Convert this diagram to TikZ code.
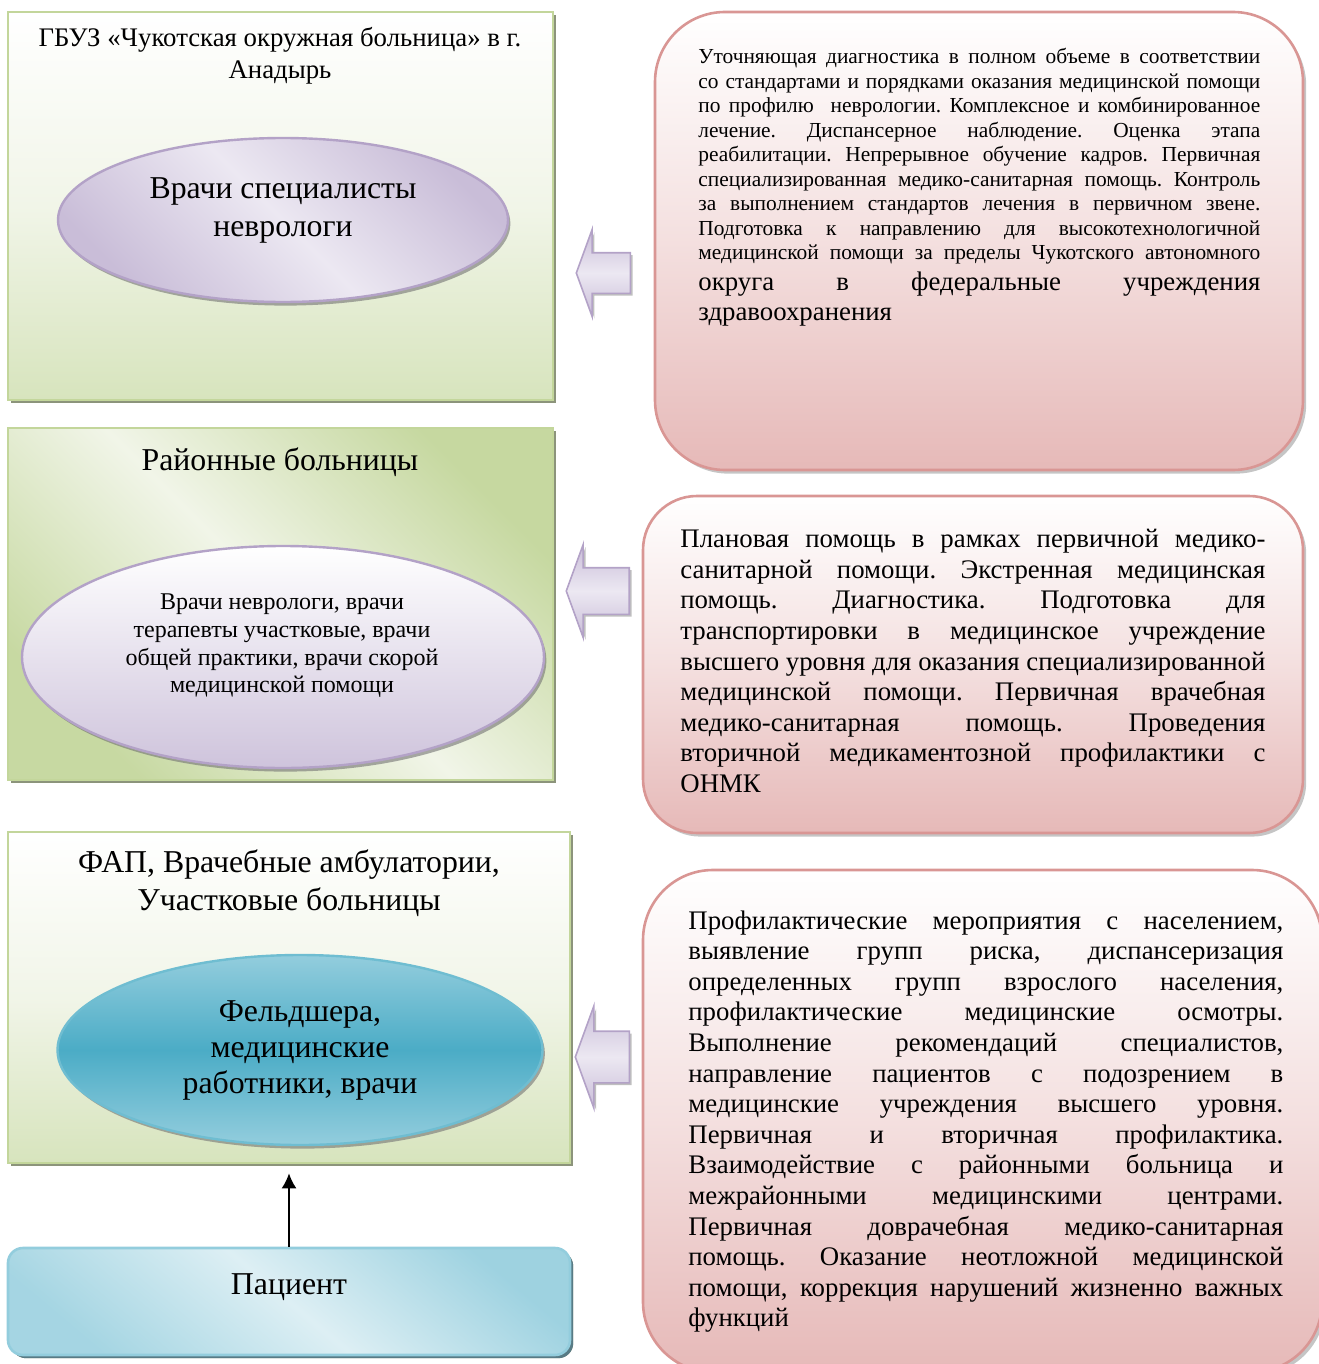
\documentclass[tikz,border=0pt]{standalone}
\usepackage{fontspec}
\setmainfont{Liberation Serif}
\usetikzlibrary{positioning,shapes.geometric,shapes.arrows,shadows,arrows.meta}

\definecolor{greenedge}{HTML}{C3D69B}
\definecolor{greenfill}{HTML}{D7E4BD}
\definecolor{greenlight}{HTML}{F1F5E8}
\definecolor{lilacedge}{HTML}{B3A2C7}
\definecolor{lilacfill}{HTML}{C9BDD8}
\definecolor{lilaclight}{HTML}{ECE8F2}
\definecolor{pinkedge}{HTML}{D99694}
\definecolor{pinkfill}{HTML}{E6B9B8}
\definecolor{tealedge}{HTML}{4BACC6}
\definecolor{tealfill}{HTML}{4BACC6}
\definecolor{teallight}{HTML}{93CDDD}
\definecolor{bluelight}{HTML}{DDEFF4}

\tolerance=10000
\hbadness=10000
\frenchspacing

\begin{document}
\begin{tikzpicture}[x=0.5pt,y=-0.5pt,
    tier/.style={rectangle, draw=greenedge, line width=1.3pt, inner sep=0pt,
      drop shadow={shadow xshift=1.6pt, shadow yshift=-1.6pt, fill=black!35!greenfill, opacity=1}},
    staff/.style={ellipse, draw=lilacedge, line width=1.2pt, inner sep=0pt,
      drop shadow={shadow xshift=1.2pt, shadow yshift=-1.8pt, fill=black!55, opacity=.6}},
    task/.style={rectangle, draw=pinkedge, line width=1.3pt, inner sep=0pt,
      top color=white, bottom color=pinkfill, middle color=pinkfill!45!white,
      drop shadow={shadow xshift=1.6pt, shadow yshift=-1.8pt, fill=black!45, opacity=.5}},
    tasktext/.style={anchor=north west, inner sep=0pt, align=justify,
      font=\fontsize{13.4}{15.3}\selectfont},
    headline/.style={align=center, inner sep=0pt},
    backarrow/.style={single arrow, shape border rotate=180, draw=lilacedge, line width=0.8pt,
      inner xsep=0pt, inner ysep=9.75pt, single arrow head extend=11.5pt,
      single arrow tip angle=140, minimum height=27pt,
      top color=lilacfill, bottom color=lilacfill, middle color=lilaclight,
      drop shadow={shadow xshift=1.2pt, shadow yshift=-1.2pt, fill=black!50, opacity=.5}}
  ]
  \useasboundingbox (0,0) rectangle (1318,1364);

  % left column: levels of care
  \node[tier, top color=white, bottom color=greenfill, middle color=greenlight,
        minimum width=272.5pt, minimum height=194pt] (gbuz) at (280.5,206) {};
  \node[headline, font=\fontsize{13.4}{16}\selectfont] (gbuzT) at (280,56)
    {ГБУЗ «Чукотская окружная больница» в г.\\Анадырь};
  \node[staff, top color=lilacfill, bottom color=lilacfill, middle color=lilaclight,
        shading angle=-45, minimum width=225pt, minimum height=82pt] (neuro) at (283,220) {};
  \node[headline, font=\fontsize{15.9}{19}\selectfont] (neuroT) at (283,210)
    {Врачи специалисты\\неврологи};

  \node[tier, top color=greenedge!85!greenfill, bottom color=greenedge!80!greenfill,
        middle color=greenlight, shading angle=-45,
        minimum width=272.5pt, minimum height=176pt] (rayon) at (280.5,604) {};
  \node[headline, font=\fontsize{15.9}{19}\selectfont] (rayonT) at (280,462)
    {Районные больницы};
  \node[staff, top color=white, bottom color=lilacfill!90!white,
        minimum width=261pt, minimum height=111pt] (district) at (283,657) {};
  \node[headline, font=\fontsize{12}{13.85}\selectfont] (districtT) at (282,646)
    {Врачи неврологи, врачи\\терапевты участковые, врачи\\общей практики, врачи скорой\\медицинской помощи};

  \node[tier, top color=white, bottom color=greenfill, middle color=greenlight,
        minimum width=281pt, minimum height=165.5pt] (fap) at (289,997.5) {};
  \node[headline, font=\fontsize{15.9}{19}\selectfont] (fapT) at (289,883)
    {ФАП, Врачебные амбулатории,\\Участковые больницы};
  \node[staff, draw=tealedge!80!white, top color=teallight, bottom color=teallight,
        middle color=tealfill, minimum width=242.5pt, minimum height=95pt] (feldsher) at (300,1050) {};
  \node[headline, font=\fontsize{15.9}{18}\selectfont] (feldsherT) at (300,1050)
    {Фельдшера,\\медицинские\\работники, врачи};

  \node[tier, rounded corners=7.5pt, draw=teallight, top color=teallight!85!bluelight,
        bottom color=teallight!75!bluelight, middle color=bluelight, shading angle=-40,
        drop shadow={shadow xshift=1.6pt, shadow yshift=-1.6pt, fill=black!40!teallight, opacity=1},
        minimum width=281pt, minimum height=53.5pt] (patient) at (289,1301.5) {};
  \node[headline, font=\fontsize{15.9}{19}\selectfont] (patientT) at (289,1287) {Пациент};

  \draw[-{Latex[length=7.5pt,width=7.5pt]}, line width=1pt, shorten >=4.5pt]
    (patient.north) -- (fap.south);

  % right column: tasks of each level
  \node[task, rounded corners=35pt, minimum width=324pt, minimum height=229pt] (p1) at (979,241) {};
  \node[tasktext, text width=281pt] (p1T) at (698,48) {%
    {\fontsize{10.7}{12.25}\selectfont
    Уточняющая диагностика в полном объеме в соответствии\linebreak
    со стандартами и порядками оказания медицинской помощи\linebreak
    по профилю~ неврологии. Комплексное и комбинированное\linebreak
    лечение. Диспансерное наблюдение. Оценка этапа\linebreak
    реабилитации. Непрерывное обучение кадров. Первичная\linebreak
    специализированная медико-санитарная помощь. Контроль\linebreak
    за выполнением стандартов лечения в первичном звене.\linebreak
    Подготовка к направлению для высокотехнологичной\linebreak
    медицинской помощи за пределы Чукотского автономного\parfillskip=0pt\par}
    округа в федеральные учреждения\linebreak
    здравоохранения};

  \node[task, rounded corners=27pt, minimum width=330pt, minimum height=168.5pt] (p2) at (973,664.5) {};
  \node[tasktext, text width=292.5pt] (p2T) at (680,529) {%
    Плановая помощь в рамках первичной медико-\linebreak
    санитарной помощи. Экстренная медицинская\linebreak
    помощь. Диагностика. Подготовка для\linebreak
    транспортировки в медицинское учреждение\linebreak
    высшего уровня для оказания специализированной\linebreak
    медицинской помощи. Первичная врачебная\linebreak
    медико-санитарная помощь. Проведения\linebreak
    вторичной медикаментозной профилактики с\linebreak
    ОНМК};

  \node[task, rounded corners=35pt, minimum width=339.5pt, minimum height=251pt] (p3) at (982.5,1121) {};
  \node[tasktext, text width=297.5pt] (p3T) at (688,910) {%
    Профилактические мероприятия с населением,\linebreak
    выявление групп риска, диспансеризация\linebreak
    определенных групп взрослого населения,\linebreak
    профилактические медицинские осмотры.\linebreak
    Выполнение рекомендаций специалистов,\linebreak
    направление пациентов с подозрением в\linebreak
    медицинские учреждения высшего уровня.\linebreak
    Первичная и вторичная профилактика.\linebreak
    Взаимодействие с районными больница и\linebreak
    межрайонными медицинскими центрами.\linebreak
    Первичная доврачебная медико-санитарная\linebreak
    помощь. Оказание неотложной медицинской\linebreak
    помощи, коррекция нарушений жизненно важных\linebreak
    функций};

  % block arrows between columns
  \node[backarrow] (arr1) at (607,273) {};
  \node[backarrow, inner ysep=11.25pt, minimum height=31.5pt] (arr2) at (602,591) {};
  \node[backarrow, inner ysep=12.5pt, single arrow head extend=12.5pt, minimum height=27pt] (arr3) at (607,1057) {};
\end{tikzpicture}
\end{document}
